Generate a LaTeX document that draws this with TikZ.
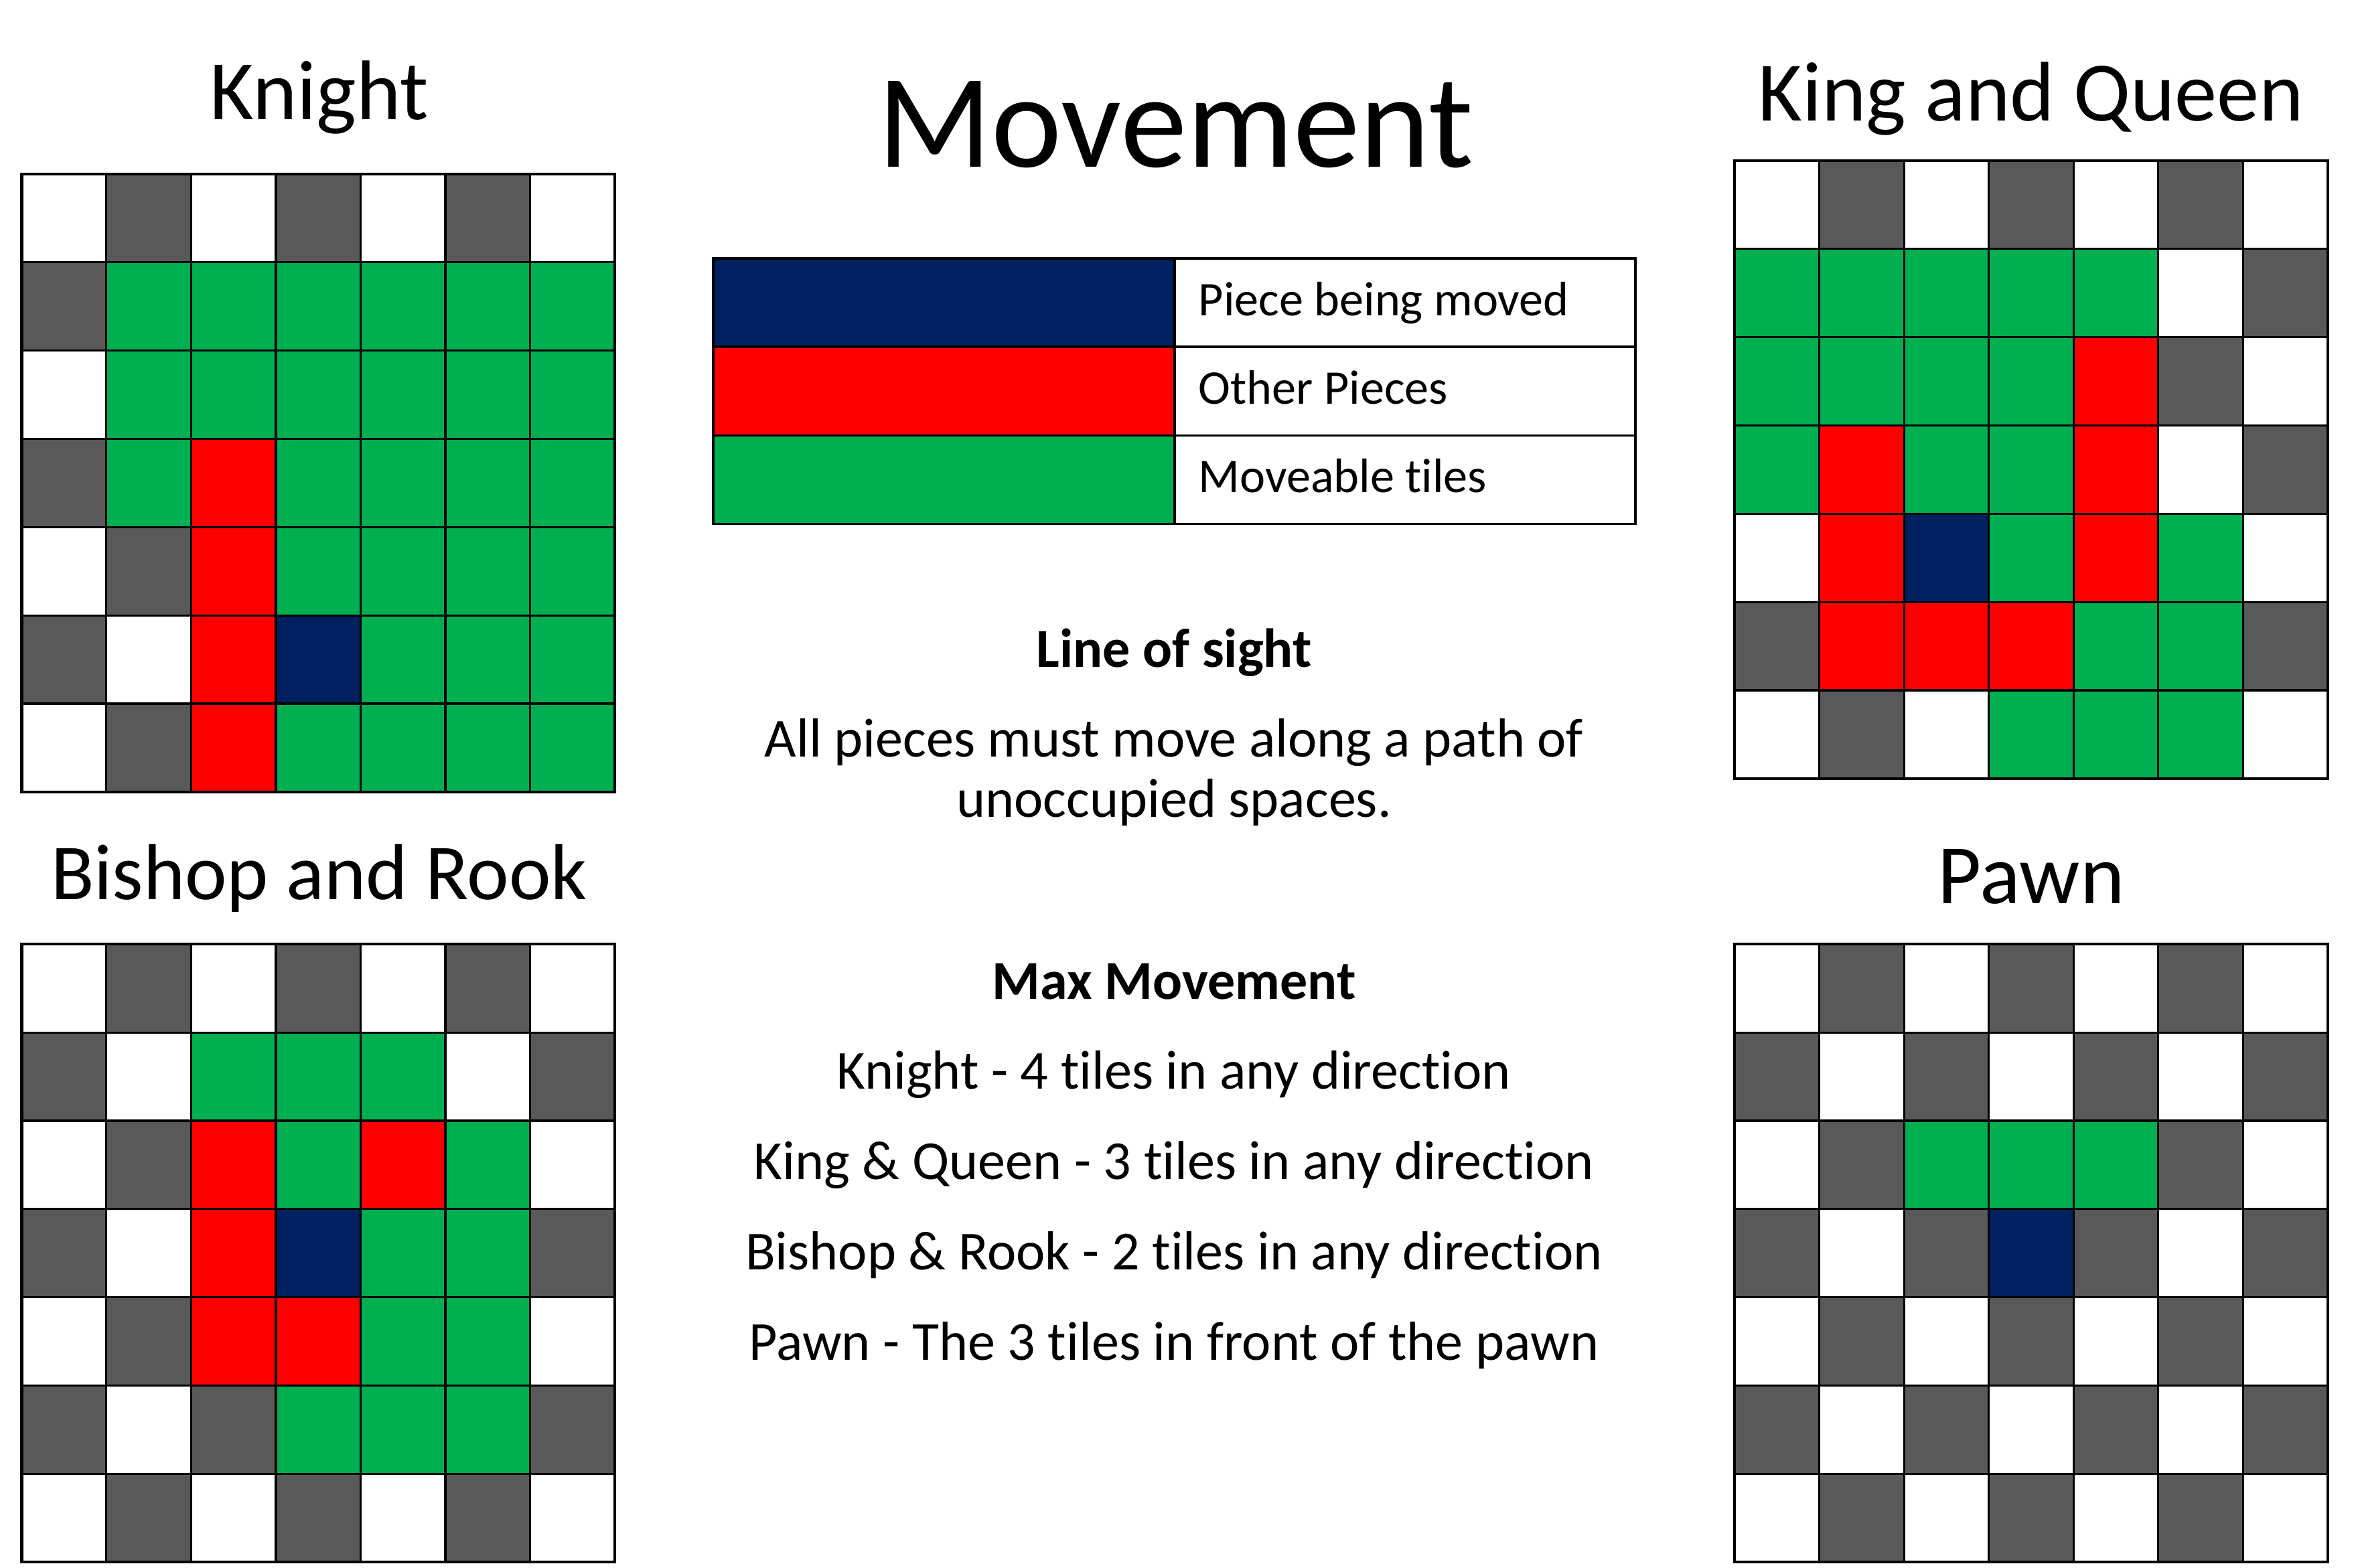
\documentclass[tikz,border=0pt]{standalone}
\usepackage{fontspec}
\setmainfont{Carlito}[Ligatures=NoCommon]
\usetikzlibrary{positioning}

\definecolor{tileW}{HTML}{FFFFFF}
\definecolor{tileD}{HTML}{595959}
\definecolor{tileG}{HTML}{00B050}
\definecolor{tileR}{HTML}{FF0000}
\definecolor{tileB}{HTML}{002060}

% board: #1 name, #2 left, #3 top, #4 rows of tiles
\newcommand{\board}[4]{%
  \foreach \row [count=\ri from 0] in {#4} {
    \foreach \tc [count=\ci from 0] in \row {
      \node[tile, fill=tile\tc] (#1-\ri-\ci) at ({#2+\ci*56.3}, {#3+\ri*58.65}) {};
    }
  }
  \draw[frame] (#1-0-0.north west) rectangle (#1-6-6.south east);
}

\begin{document}
\begin{tikzpicture}[
  x=0.02cm, y=-0.02cm,
  tile/.style={
    rectangle, draw=black, line width=0.8pt, anchor=north west,
    minimum width=1.126cm, minimum height=1.173cm, inner sep=0pt, outer sep=0pt
  },
  frame/.style={draw=black, line width=1.1pt},
  swatch/.style={
    rectangle, draw=black, line width=0.9pt, anchor=north west,
    minimum width=6.136cm, minimum height=1.176cm, inner sep=0pt, outer sep=0pt
  },
  legbox/.style={swatch, fill=white, minimum width=6.122cm},
  legtext/.style={anchor=base west, inner sep=0pt, font=\fontsize{18.3pt}{22pt}\selectfont},
  title/.style={anchor=base, inner sep=0pt, font=\fontsize{32pt}{38pt}\selectfont},
  smalltitle/.style={title, font=\fontsize{30pt}{36pt}\selectfont},
  bigtitle/.style={title, font=\fontsize{50.5pt}{60pt}\selectfont},
  body/.style={anchor=base, inner sep=0pt, font=\fontsize{20.8pt}{25pt}\selectfont},
  head/.style={body, font=\fontsize{20.8pt}{25pt}\selectfont\bfseries}
]
\useasboundingbox (0,0) rectangle (1568,1042);

% -- Boards --
\board{kn}{14.4}{115.7}{{W,D,W,D,W,D,W},{D,G,G,G,G,G,G},{W,G,G,G,G,G,G},{D,G,R,G,G,G,G},{W,D,R,G,G,G,G},{D,W,R,B,G,G,G},{W,D,R,G,G,G,G}}
\board{kq}{1152.5}{106.8}{{W,D,W,D,W,D,W},{G,G,G,G,G,W,D},{G,G,G,G,R,D,W},{G,R,G,G,R,W,D},{W,R,B,G,R,G,W},{D,R,R,R,G,G,D},{W,D,W,G,G,G,W}}
\board{br}{14.4}{627.5}{{W,D,W,D,W,D,W},{D,W,G,G,G,W,D},{W,D,R,G,R,G,W},{D,W,R,B,G,G,D},{W,D,R,R,G,G,W},{D,W,D,G,G,G,D},{W,D,W,D,W,D,W}}
\board{pw}{1152.5}{627.5}{{W,D,W,D,W,D,W},{D,W,D,W,D,W,D},{W,D,G,G,G,D,W},{D,W,D,B,D,W,D},{W,D,W,D,W,D,W},{D,W,D,W,D,W,D},{W,D,W,D,W,D,W}}

% -- Titles --
\node[title] (t-knight) at (212, 79.3) {Knight};
\node[title] (t-kq)     at (1349.5, 80.1) {King and Queen};
\node[smalltitle] (t-bishop) at (212, 597.6) {Bishop and Rook};
\node[title] (t-pawn)   at (1349.5, 600.4) {Pawn};
\node[bigtitle] (t-move) at (781, 111.2) {Movement};

% -- Legend --
\node[swatch, fill=tileB] (leg-b) at (473.8, 171.8) {};
\node[swatch, fill=tileR] (leg-r) at (473.8, 230.6) {};
\node[swatch, fill=tileG] (leg-g) at (473.8, 289.4) {};
\node[legbox] (box-b) at (780.6, 171.8) {};
\node[legbox] (box-r) at (780.6, 230.6) {};
\node[legbox] (box-g) at (780.6, 289.4) {};
\node[legtext] (txt-b) at (796, 210) {Piece being moved};
\node[legtext] (txt-r) at (796, 268.5) {Other Pieces};
\node[legtext] (txt-g) at (796, 327.2) {Moveable tiles};

% -- Rules --
\node[head] (los)   at (780, 443.5) {Line of sight};
\node[body] (los-1) at (780, 502.8) {All pieces must move along a path of};
\node[body] (los-2) at (780, 542.9) {unoccupied spaces.};

\node[head] (max)   at (780, 664)   {Max Movement};
\node[body] (max-1) at (780, 723.5) {Knight - 4 tiles in any direction};
\node[body] (max-2) at (780, 783.7) {King \& Queen - 3 tiles in any direction};
\node[body] (max-3) at (780, 844)   {Bishop \& Rook - 2 tiles in any direction};
\node[body] (max-4) at (780, 904)   {Pawn - The 3 tiles in front of the pawn};

\end{tikzpicture}
\end{document}
